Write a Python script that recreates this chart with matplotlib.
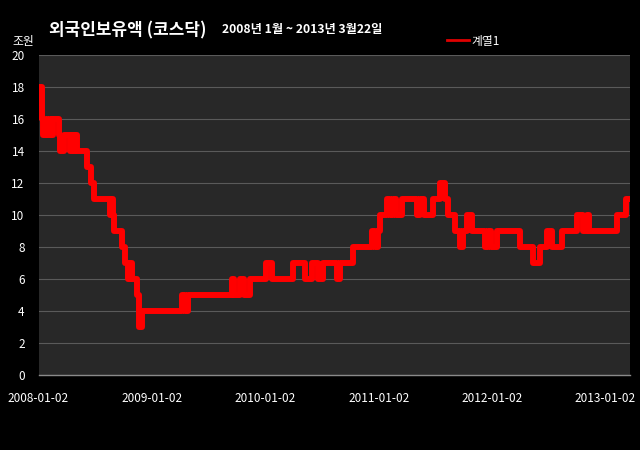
import matplotlib
matplotlib.use("Agg")
import matplotlib.pyplot as plt
import matplotlib.dates as mdates
from matplotlib.lines import Line2D
import pandas as pd

plt.rcParams['font.family'] = ['Noto Sans CJK KR', 'DejaVu Sans']

# change points of the step series (조원)
dates = [
    "2008-01-02", "2008-01-05", "2008-01-12", "2008-01-16", "2008-01-26", "2008-01-29",
    "2008-02-08", "2008-02-14", "2008-02-18", "2008-03-08", "2008-03-11", "2008-03-24",
    "2008-04-12", "2008-04-19", "2008-04-25", "2008-04-29", "2008-05-05", "2008-06-06",
    "2008-06-19", "2008-06-29", "2008-08-19", "2008-08-26", "2008-08-29", "2008-09-01",
    "2008-09-27", "2008-10-07", "2008-10-16", "2008-10-23", "2008-10-29", "2008-11-14",
    "2008-11-21", "2008-11-30", "2009-04-08", "2009-04-18", "2009-04-28", "2009-09-17",
    "2009-09-23", "2009-10-12", "2009-10-25", "2009-11-14", "2010-01-04", "2010-01-23",
    "2010-04-01", "2010-05-10", "2010-06-01", "2010-06-21", "2010-07-07", "2010-08-21",
    "2010-08-31", "2010-10-11", "2010-12-11", "2010-12-21", "2010-12-30", "2011-01-06",
    "2011-01-29", "2011-02-07", "2011-02-17", "2011-02-27", "2011-03-18", "2011-05-06",
    "2011-05-15", "2011-05-28", "2011-06-26", "2011-07-19", "2011-08-04", "2011-08-14",
    "2011-09-05", "2011-09-21", "2011-10-01", "2011-10-14", "2011-10-30", "2011-12-11",
    "2011-12-20", "2011-12-30", "2012-01-18", "2012-04-01", "2012-05-13", "2012-06-05",
    "2012-06-27", "2012-07-13", "2012-08-15", "2012-10-02", "2012-10-21", "2012-11-03",
    "2012-11-10", "2013-02-08", "2013-03-09", "2013-03-22",
]
values = [
    17, 18, 16, 15, 16, 15,
    16, 15, 16, 15, 14, 15,
    14, 15, 14, 15, 14, 13,
    12, 11, 10, 11, 10, 9,
    8, 7, 6, 7, 6, 5,
    3, 4, 5, 4, 5, 6,
    5, 6, 5, 6, 7, 6,
    7, 6, 7, 6, 7, 6,
    7, 8, 9, 8, 9, 10,
    11, 10, 11, 10, 11, 10,
    11, 10, 11, 12, 11, 10,
    9, 8, 9, 10, 9, 8,
    9, 8, 9, 8, 7, 8,
    9, 8, 9, 10, 9, 10,
    9, 10, 11, 11,
]
xtick_labels = ["2008-01-02", "2009-01-02", "2010-01-02", "2011-01-02",
                "2012-01-02", "2013-01-02"]
yticks = [0, 2, 4, 6, 8, 10, 12, 14, 16, 18, 20]

x = pd.to_datetime(dates)

fig = plt.figure(figsize=(6.4, 4.5), dpi=100, facecolor='black')
ax = fig.add_axes([38.5 / 640, 1 - 375 / 450, (630 - 38.5) / 640, 320 / 450])
ax.set_facecolor('#282828')

ax.plot(x, values, drawstyle='steps-post', color='#ff0000', lw=4.3,
        solid_joinstyle='round', solid_capstyle='round', label='계열1', zorder=3)

ax.set_ylim(0, 20)
ax.set_yticks(yticks)
ax.set_xlim(pd.Timestamp("2008-01-02"), pd.Timestamp("2013-03-22"))
ax.set_xticks(pd.to_datetime(xtick_labels))
ax.set_xticklabels(xtick_labels)

ax.grid(axis='y', color='#5a5a5a', lw=0.8, zorder=1)
ax.grid(axis='x', visible=False)
for s in ['top', 'right', 'left']:
    ax.spines[s].set_visible(False)
ax.spines['bottom'].set_color('#8a8a8a')
ax.spines['bottom'].set_linewidth(1.0)

ax.tick_params(axis='y', length=0, pad=10, labelcolor='white', labelsize=8.5)
ax.tick_params(axis='x', length=0, pad=12, labelcolor='white', labelsize=8.5)

fig.text(49 / 640, 1 - 30 / 450, '외국인보유액 (코스닥)', color='white',
         fontsize=12.2, fontweight='bold', ha='left', va='center')
fig.text(222 / 640, 1 - 30 / 450, '2008년 1월 ~ 2013년 3월22일', color='white',
         fontsize=8.8, fontweight='bold', ha='left', va='center')
fig.text(23 / 640, 1 - 41 / 450, '조원', color='white', fontsize=8.5,
         ha='center', va='center')

handle = Line2D([], [], color='#e00000', lw=2)
fig.legend([handle], ['계열1'], loc='center left',
           bbox_to_anchor=(447 / 640, 1 - 41 / 450), frameon=False,
           handlelength=1.9, handletextpad=0.2, fontsize=8.5,
           labelcolor='white', borderaxespad=0, borderpad=0)

fig.savefig('out.png', dpi=100, facecolor='black')
